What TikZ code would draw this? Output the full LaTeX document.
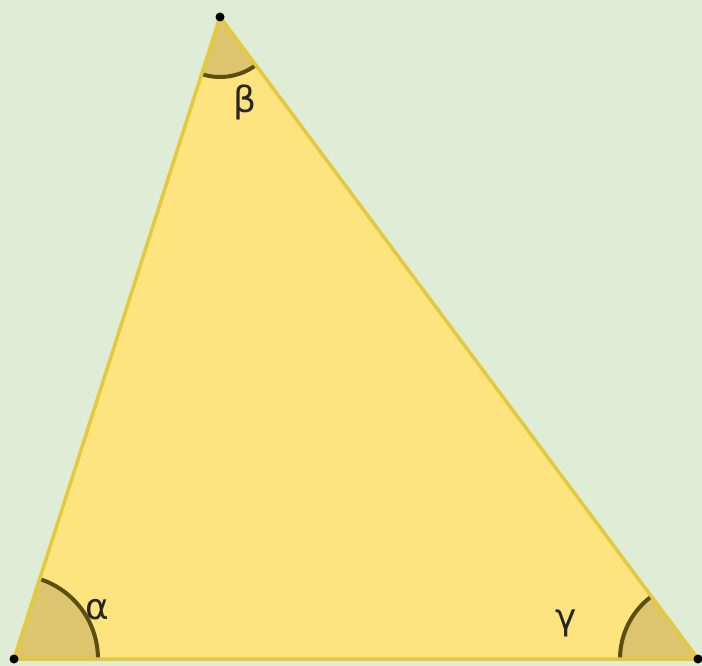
\documentclass[tikz,border=0pt]{standalone}
\usepackage{fontspec}
\setmainfont{DejaVu Sans}
\usetikzlibrary{calc}
\definecolor{bg}{HTML}{DFEDD6}
\definecolor{tri}{HTML}{FDE47E}
\definecolor{triedge}{HTML}{E3C93E}
\definecolor{sect}{HTML}{DCC56E}
\definecolor{sectedge}{HTML}{B9A030}
\definecolor{arcc}{HTML}{5A4E12}
\tikzset{
  vertex/.style={circle,fill=black,inner sep=0pt,minimum size=9pt},
  anglab/.style={font=\fontsize{36}{36}\selectfont,text=black!85},
  arcline/.style={draw=arcc,line width=4pt}
}
\begin{document}
\begin{tikzpicture}[x=1pt,y=-1pt]
\fill[bg] (0,0) rectangle (702,666);
\useasboundingbox (0,0) rectangle (702,666);
\coordinate (A) at (14,659);
\coordinate (B) at (220,17);
\coordinate (C) at (698,659);
\fill[tri] (A) -- (B) -- (C) -- cycle;
\fill[sect] (A) -- ++(84,0) arc[start angle=0,end angle=-72.2,radius=84] -- cycle;
\draw[arcline] ($(A)+(84,0)$) arc[start angle=0,end angle=-72.2,radius=84];
\fill[sect] (B) -- ++(107.8:60) arc[start angle=107.8,end angle=53.3,radius=60] -- cycle;
\draw[arcline] ($(B)+(107.8:60)$) arc[start angle=107.8,end angle=53.3,radius=60];
\fill[sect] (C) -- ++(180:78) arc[start angle=180,end angle=233.3,radius=78] -- cycle;
\draw[arcline] ($(C)+(180:78)$) arc[start angle=180,end angle=233.3,radius=78];
\draw[triedge,line width=3.5pt,line join=round] (A) -- (B) -- (C) -- cycle;
\node[vertex] (a) at (A) {};
\node[vertex] (b) at (B) {};
\node[vertex] (c) at (C) {};
\node[anglab] (alpha) at (97,610) {α};
\node[anglab] (beta) at (245,102) {β};
\node[anglab] (gamma) at (566,623) {γ};
\end{tikzpicture}
\end{document}
